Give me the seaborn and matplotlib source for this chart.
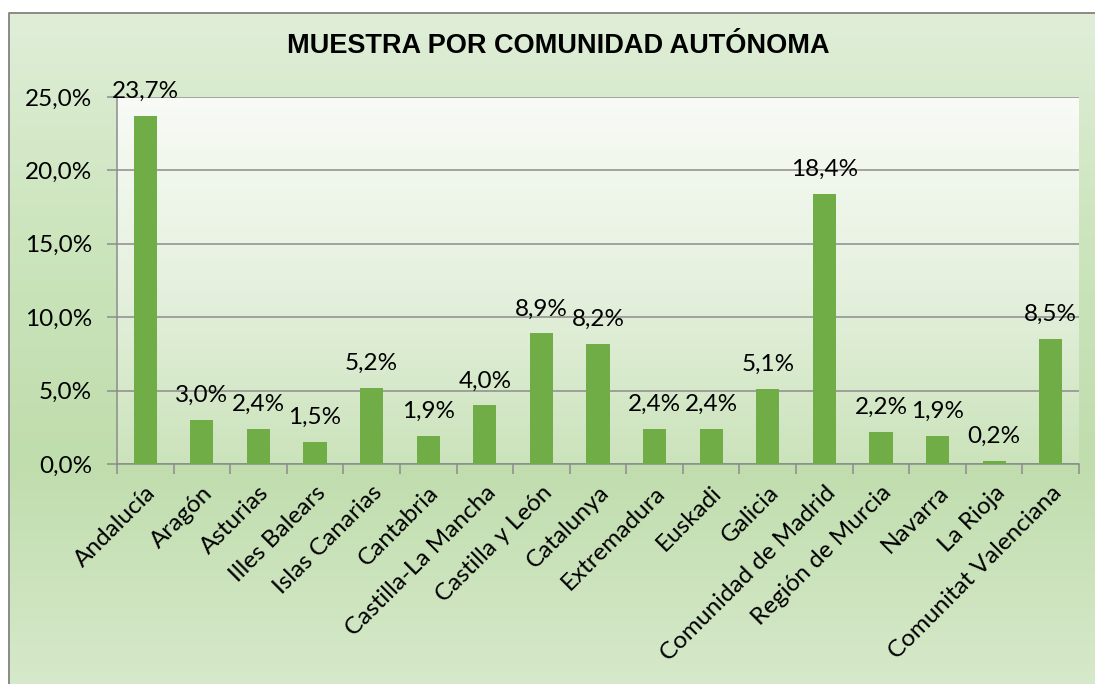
import matplotlib
matplotlib.use("Agg")
import matplotlib.pyplot as plt
import seaborn as sns
import numpy as np
import pandas as pd
from matplotlib.colors import LinearSegmentedColormap
from matplotlib.lines import Line2D
from matplotlib.ticker import FixedLocator, FuncFormatter

comunidades = ["Andalucía", "Aragón", "Asturias", "Illes Balears", "Islas Canarias",
               "Cantabria", "Castilla-La Mancha", "Castilla y León", "Catalunya",
               "Extremadura", "Euskadi", "Galicia", "Comunidad de Madrid",
               "Región de Murcia", "Navarra", "La Rioja", "Comunitat Valenciana"]
porcentajes = [23.7, 3.0, 2.4, 1.5, 5.2, 1.9, 4.0, 8.9, 8.2, 2.4, 2.4, 5.1,
               18.4, 2.2, 1.9, 0.2, 8.5]
y_ticks = [0, 5, 10, 15, 20, 25]

df = pd.DataFrame({"comunidad": comunidades, "pct": porcentajes})

sns.set_theme(style="white")
plt.rcParams['font.family'] = ['Lato', 'DejaVu Sans']

fig = plt.figure(figsize=(10.95, 6.84), dpi=100)

# background gradient of the chart area (starts at x=9px, y=13px)
x0, y1 = 9 / 1095, 1 - 13 / 684
bg = fig.add_axes([0, 0, 1, 1], zorder=-2)
bg.set_xlim(0, 1)
bg.set_ylim(0, 1)
bg_cmap = LinearSegmentedColormap.from_list("bg", ["#E0EED8", "#CCE5BD", "#C0DDAD", "#D6E9CA"])
bg.imshow(np.linspace(0, 1, 256).reshape(-1, 1), aspect="auto", cmap=bg_cmap,
          extent=[x0, 1, 0, y1])
bg.add_line(Line2D([x0, x0, 1], [0, y1, y1], color="#8A8A8A", lw=1.4))
bg.axis("off")

ax = fig.add_axes([117 / 1095, 1 - 464 / 684, (1079 - 117) / 1095, (464 - 97) / 684])
ax.set_facecolor("none")
pa_cmap = LinearSegmentedColormap.from_list("pa", ["#F8FBF6", "#E6F1DF", "#CBE3BB"])
ax.imshow(np.linspace(0, 1, 256).reshape(-1, 1), aspect="auto", cmap=pa_cmap,
          extent=[0, 1, 0, 1], transform=ax.transAxes, zorder=-1)

sns.barplot(data=df, x="comunidad", y="pct", color="#70AD47", saturation=1,
            width=0.41, linewidth=0, ax=ax, zorder=3)

ax.set_xlim(-0.5, len(comunidades) - 0.5)
ax.set_ylim(0, 25)
ax.set_yticks(y_ticks)
ax.yaxis.set_major_formatter(FuncFormatter(lambda v, p: f"{v:.1f}%".replace(".", ",")))
ax.grid(axis="y", color="#8C8C8C", lw=1.1, zorder=1)
ax.set_axisbelow(True)

for s in ["top", "right"]:
    ax.spines[s].set_visible(False)
for s in ["left", "bottom"]:
    ax.spines[s].set_color("#8C8C8C")
    ax.spines[s].set_linewidth(1.1)

ax.tick_params(axis="y", length=7, color="#8C8C8C", width=1.1, labelsize=17.5,
               labelcolor="black", left=True, pad=11)
ax.tick_params(axis="x", which="major", length=0, labelsize=17.5, labelcolor="black", pad=13)
ax.xaxis.set_minor_locator(FixedLocator(np.arange(-0.5, len(comunidades), 1)))
ax.tick_params(axis="x", which="minor", length=7, color="#8C8C8C", width=1.1, bottom=True)
plt.setp(ax.get_xticklabels(), rotation=45, ha="right", rotation_mode="anchor")

ax.set_xlabel("")
ax.set_ylabel("")

for i, v in enumerate(porcentajes):
    ax.annotate(f"{v:.1f}%".replace(".", ","), (i, v), xytext=(0, 10),
                textcoords="offset points", ha="center", va="bottom",
                fontsize=17.5, color="black", annotation_clip=False, zorder=5)

fig.text(0.510, 1 - 46 / 684, "MUESTRA POR COMUNIDAD AUTÓNOMA", ha="center", va="center",
         fontsize=19.5, fontweight="bold", color="black",
         family=["Liberation Sans", "DejaVu Sans"])

fig.savefig("out.png", dpi=100)
